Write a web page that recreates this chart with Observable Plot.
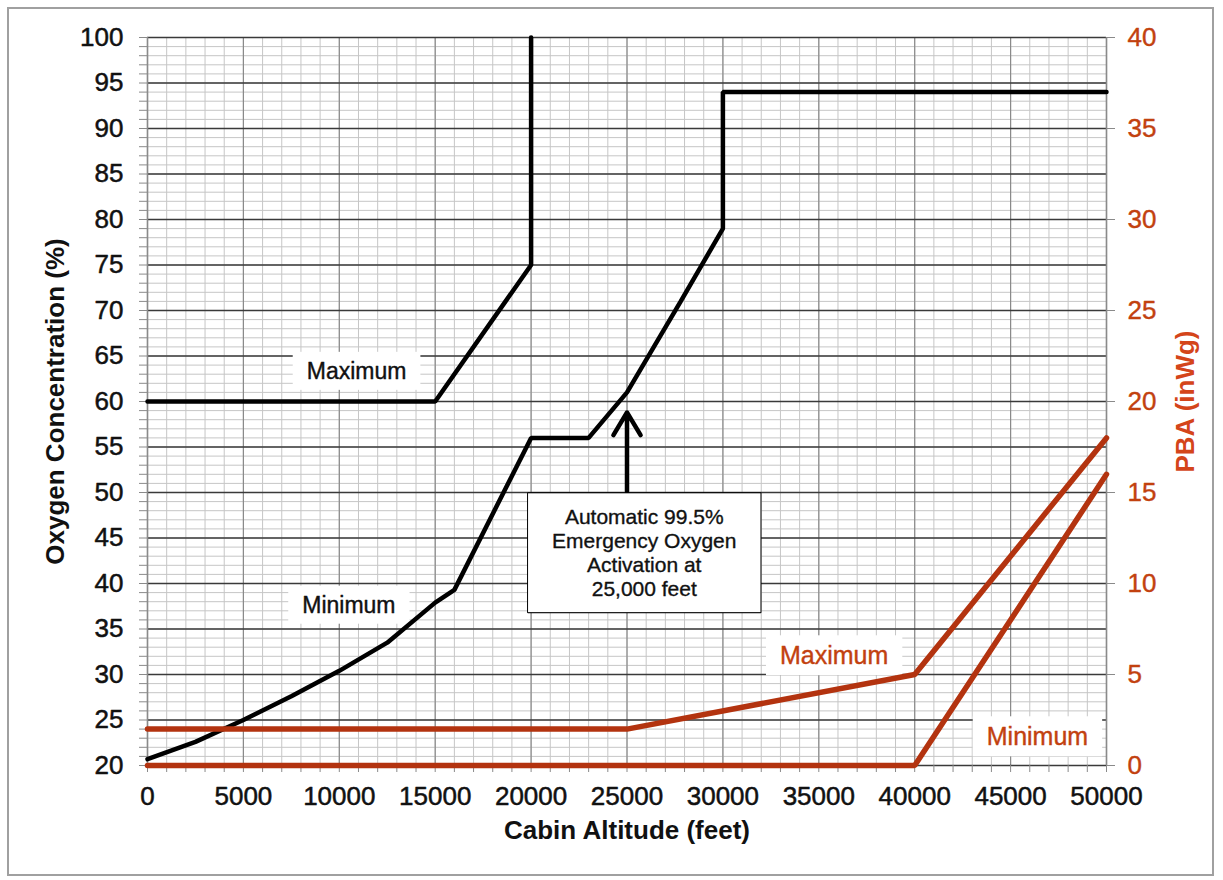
<!DOCTYPE html>
<html><head><meta charset="utf-8">
<script src="https://cdn.jsdelivr.net/npm/d3@7"></script>
<script src="https://cdn.jsdelivr.net/npm/@observablehq/plot@0.6"></script>
<style>
body{margin:0;background:#fff;}
#wrap{position:relative;width:1223px;height:880px;}
#frame{position:absolute;left:7px;top:7px;width:1207px;height:869px;border:2px solid #a0a0a0;box-sizing:border-box;pointer-events:none}
svg{font-family:"Liberation Sans",Arial,sans-serif;}
</style></head><body><div id="wrap"><div id="frame"></div></div>
<script>
// ---- data ----
const maxO2Alt = [0, 15000, 20000, 20000];
const maxO2Val = [60, 60, 75, 100];
const minO2Alt = [0, 2500, 5000, 7500, 10000, 12500, 15000, 16000, 20000, 23000, 25000, 27800, 30000, 30000, 50000];
const minO2Val = [20.7, 22.6, 25.0, 27.6, 30.4, 33.5, 37.9, 39.3, 56, 56, 61, 71, 79, 94, 94];
const pbaMaxAlt = [0, 25000, 40000, 50000];
const pbaMaxVal = [2, 2, 5, 18];
const pbaMinAlt = [0, 40000, 50000];
const pbaMinVal = [0, 0, 16];
const xTicks = [0, 5000, 10000, 15000, 20000, 25000, 30000, 35000, 40000, 45000, 50000];
const o2Ticks = [20, 25, 30, 35, 40, 45, 50, 55, 60, 65, 70, 75, 80, 85, 90, 95, 100];
const pbaTicks = [0, 5, 10, 15, 20, 25, 30, 35, 40];
const blackLabels = [{text: "Maximum", alt: 10900, val: 63.3}, {text: "Minimum", alt: 10500, val: 37.6}];
const redLabels = [{text: "Maximum", alt: 35800, pba: 6.0}, {text: "Minimum", alt: 46400, pba: 1.55}];
const annotation = [{text: "Automatic 99.5%\nEmergency Oxygen\nActivation at\n25,000 feet", alt: 25900, val: 43.4}];
const arrowData = [{alt: 25000, from: 50.1, to: 58.8}];

// ---- helpers ----
const RED = "#b3330f";
const RED_TEXT = "#c2410f";
const INK = "#111";
const pbaToO2 = p => 20 + p * 2; // right axis 0..40 maps onto left axis 20..100
const rows = (xs, ys) => xs.map((x, i) => ({alt: x, val: ys[i]}));
const minorX = d3.range(0, 50001, 1000);
const minorY = d3.range(20, 100.5, 1);

const plot = Plot.plot({
  width: 1223, height: 880,
  marginLeft: 147, marginRight: 117, marginTop: 37, marginBottom: 115,
  x: {domain: [0, 50000]},
  y: {domain: [20, 100]},
  style: {fontFamily: '"Liberation Sans", Arial, sans-serif', background: "transparent"},
  marks: [
    Plot.ruleX(minorX, {stroke: "#c6c6c6", strokeWidth: 1}),
    Plot.ruleY(minorY, {stroke: "#c6c6c6", strokeWidth: 1}),
    Plot.ruleX(xTicks, {stroke: "#8a8a8a", strokeWidth: 1.2}),
    Plot.ruleY(o2Ticks, {stroke: "#3a3a3a", strokeWidth: 1.3}),
    Plot.ruleX([0, 50000], {stroke: "#8a8a8a", strokeWidth: 1.5}),
    // left axis
    Plot.axisY(minorY, {anchor: "left", tickSize: 8, stroke: "#8a8a8a", tickFormat: () => "", label: null}),
    Plot.axisY(o2Ticks, {anchor: "left", tickSize: 0, tickPadding: 24, fontSize: 26, fill: INK, textStroke: INK, textStrokeWidth: 0.5, tickFormat: d => String(d), label: null}),
    // right axis
    Plot.axisY(pbaTicks.map(pbaToO2), {anchor: "right", tickSize: 8, tickPadding: 13, fontSize: 26, stroke: "#8a8a8a", fill: RED_TEXT, textStroke: RED_TEXT, textStrokeWidth: 0.4, tickFormat: d => String((d - 20) / 2), label: null}),
    // bottom axis
    Plot.axisX(minorX, {anchor: "bottom", tickSize: 7, stroke: "#8a8a8a", tickFormat: () => "", label: null}),
    Plot.axisX(xTicks, {anchor: "bottom", tickSize: 0, tickPadding: 21, fontSize: 26, fill: INK, textStroke: INK, textStrokeWidth: 0.5, tickFormat: d => String(d), label: null}),
    // axis titles
    Plot.text(["Oxygen Concentration (%)"], {frameAnchor: "left", dx: -92, rotate: -90, textAnchor: "middle", fontSize: 26, fontWeight: "bold", fill: INK}),
    Plot.text(["PBA (inWg)"], {frameAnchor: "right", dx: 79, rotate: -90, textAnchor: "middle", fontSize: 26, fontWeight: "bold", fill: "#d4451a"}),
    Plot.text(["Cabin Altitude (feet)"], {frameAnchor: "bottom", dy: 73, textAnchor: "middle", fontSize: 26, fontWeight: "bold", fill: INK}),
    // labels (boxes hide the grid, lines drawn over them)
    Plot.text(blackLabels, {x: "alt", y: "val", text: "text", fontSize: 23, fill: INK, stroke: INK, strokeWidth: 0.4, ariaDescription: "boxed"}),
    Plot.text(redLabels, {x: "alt", y: d => pbaToO2(d.pba), text: "text", fontSize: 25, fill: RED_TEXT, stroke: RED_TEXT, strokeWidth: 0.4, ariaDescription: "boxed"}),
    // data lines
    Plot.line(rows(maxO2Alt, maxO2Val), {x: "alt", y: "val", stroke: "black", strokeWidth: 4.5, strokeLinejoin: "miter"}),
    Plot.line(rows(minO2Alt, minO2Val), {x: "alt", y: "val", stroke: "black", strokeWidth: 4.5, strokeLinejoin: "miter"}),
    Plot.line(rows(pbaMaxAlt, pbaMaxVal), {x: "alt", y: d => pbaToO2(d.val), stroke: RED, strokeWidth: 5.5, strokeLinejoin: "miter"}),
    Plot.line(rows(pbaMinAlt, pbaMinVal), {x: "alt", y: d => pbaToO2(d.val), stroke: RED, strokeWidth: 5.5, strokeLinejoin: "miter"}),
    // annotation
    Plot.arrow(arrowData, {x1: "alt", y1: "from", x2: "alt", y2: "to", stroke: "black", strokeWidth: 4.5, headLength: 20, headAngle: 62}),
    Plot.text(annotation, {x: "alt", y: "val", text: "text", fontSize: 21, lineHeight: 1.14, fill: INK, stroke: INK, strokeWidth: 0.35, ariaDescription: "annot"})
  ]
});
document.getElementById("wrap").prepend(plot);

// white boxes behind labels, sized from the rendered text, in the text's own coordinates
function boxes(sel, padX, padY, stroke) {
  plot.querySelectorAll(sel).forEach(g => {
    g.querySelectorAll("text").forEach(t => {
      const bb = t.getBBox();
      const r = document.createElementNS("http://www.w3.org/2000/svg", "rect");
      r.setAttribute("x", bb.x - padX);
      r.setAttribute("y", bb.y - padY);
      r.setAttribute("width", bb.width + 2 * padX);
      r.setAttribute("height", bb.height + 2 * padY);
      r.setAttribute("fill", "white");
      r.setAttribute("stroke", stroke || "none");
      r.setAttribute("stroke-width", stroke ? 2 : 0);
      const tr = t.getAttribute("transform");
      if (tr) r.setAttribute("transform", tr);
      t.parentNode.insertBefore(r, t);
    });
  });
}
boxes('g[aria-description="boxed"]', 14, 6, null);
boxes('g[aria-description="annot"]', 24, 12, "black");
</script>
</body></html>
